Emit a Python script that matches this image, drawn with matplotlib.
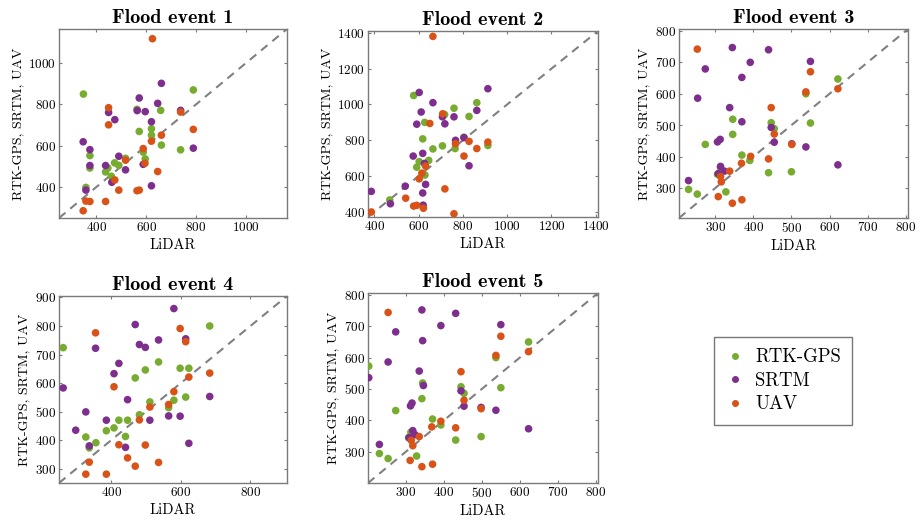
import matplotlib
matplotlib.use("Agg")
import matplotlib.pyplot as plt
from matplotlib.lines import Line2D

# colours (MATLAB default palette)
GREEN = "#77ac30"
PURPLE = "#7e2f8e"
ORANGE = "#d95319"

SERIES = ["RTK-GPS", "SRTM", "UAV"]
TITLES = ["Flood event 1", "Flood event 2", "Flood event 3", "Flood event 4", "Flood event 5"]

# (LiDAR, other) pairs
EV1_RTK = [(348, 850), (358, 398), (374, 552), (374, 492), (437, 473), (446, 492), (460, 452),
           (473, 517), (490, 505), (517, 539), (563, 776), (572, 669), (588, 569), (596, 536),
           (621, 682), (621, 651), (658, 771), (661, 603), (738, 580), (789, 870)]
EV1_SRTM = [(347, 619), (358, 385), (374, 581), (374, 504), (437, 504), (449, 761), (462, 423),
            (474, 726), (490, 549), (517, 483), (564, 770), (572, 831), (588, 510), (596, 765),
            (621, 716), (621, 406), (646, 805), (661, 902), (738, 771), (789, 588)]
EV1_UAV = [(347, 285), (358, 332), (374, 330), (437, 330), (449, 784), (449, 701), (474, 434),
           (490, 385), (517, 530), (563, 382), (572, 385), (588, 586), (595, 515), (621, 622),
           (625, 1118), (646, 475), (661, 651), (738, 763), (789, 679)]

EV2_RTK = [(470, 467), (578, 1050), (592, 650), (603, 681), (619, 808), (628, 900), (629, 606),
           (646, 688), (665, 752), (708, 769), (718, 944), (760, 979), (765, 754), (805, 817),
           (828, 933), (863, 1010), (913, 771)]
EV2_SRTM = [(387, 515), (473, 446), (540, 544), (576, 712), (592, 890), (603, 1067), (612, 958),
            (619, 727), (619, 506), (621, 438), (627, 671), (632, 554), (665, 1010), (708, 931),
            (719, 892), (760, 931), (767, 800), (805, 815), (828, 658), (863, 967), (913, 1088)]
EV2_UAV = [(387, 400), (542, 477), (578, 433), (592, 437), (603, 585), (615, 617), (622, 421),
           (632, 656), (651, 894), (665, 1380), (709, 948), (719, 529), (760, 390), (767, 781),
           (805, 712), (828, 794), (863, 754), (913, 790)]

EV3_RTK = [(230, 296), (253, 281), (274, 439), (306, 344), (311, 346), (314, 365), (328, 288),
           (346, 471), (346, 519), (370, 405), (391, 388), (440, 349), (447, 508), (455, 489),
           (500, 352), (538, 600), (550, 507), (622, 647)]
EV3_SRTM = [(230, 324), (254, 586), (274, 679), (306, 447), (313, 455), (314, 369), (308, 346),
            (324, 354), (338, 556), (345, 747), (370, 511), (370, 652), (392, 700), (440, 740),
            (447, 493), (455, 446), (501, 441), (538, 431), (550, 703), (622, 374)]
EV3_UAV = [(253, 742), (308, 273), (314, 337), (316, 320), (338, 354), (345, 252), (369, 379),
           (370, 263), (393, 401), (440, 393), (447, 556), (455, 472), (501, 439), (538, 606),
           (550, 670), (622, 616)]

EV4_RTK = [(262, 724), (327, 411), (337, 373), (356, 391), (386, 433), (408, 443), (422, 470),
           (447, 470), (441, 413), (469, 618), (481, 489), (498, 646), (511, 534), (536, 674),
           (565, 514), (580, 540), (598, 652), (614, 551), (623, 652), (683, 800)]
EV4_SRTM = [(262, 583), (298, 435), (327, 499), (337, 380), (355, 722), (386, 470), (408, 633),
            (422, 669), (441, 375), (447, 542), (469, 805), (481, 735), (498, 725), (511, 470),
            (536, 751), (565, 485), (580, 861), (598, 484), (614, 755), (623, 389), (683, 553)]
EV4_UAV = [(327, 281), (337, 323), (355, 776), (386, 281), (408, 587), (422, 384), (447, 338),
           (469, 309), (481, 471), (498, 383), (511, 516), (536, 322), (565, 525), (580, 570),
           (598, 791), (614, 745), (623, 621), (683, 635)]

EV5_RTK = [(202, 573), (230, 294), (253, 278), (273, 431), (307, 344), (313, 362), (328, 286),
           (342, 469), (344, 519), (370, 404), (392, 385), (431, 337), (445, 507), (453, 486),
           (498, 348), (537, 600), (550, 504), (623, 650)]
EV5_SRTM = [(202, 536), (230, 323), (253, 586), (273, 682), (308, 345), (312, 446), (316, 455),
            (318, 367), (324, 354), (335, 557), (342, 752), (344, 654), (346, 511), (392, 702),
            (431, 741), (445, 494), (453, 445), (498, 441), (537, 432), (550, 705), (623, 373)]
EV5_UAV = [(253, 744), (311, 272), (314, 336), (318, 319), (335, 348), (342, 252), (370, 260),
           (368, 379), (392, 397), (431, 376), (445, 555), (453, 464), (498, 437), (537, 607),
           (550, 668), (623, 619)]

LIMITS = [(250, 1165), (372, 1410), (205, 806), (250, 905), (200, 806)]
YTICKS = [[400, 600, 800, 1000],
          [400, 600, 800, 1000, 1200, 1400],
          [300, 400, 500, 600, 700, 800],
          [300, 400, 500, 600, 700, 800, 900],
          [300, 400, 500, 600, 700, 800]]
XTICKS = [[400, 600, 800, 1000],
          [400, 600, 800, 1000, 1200, 1400],
          [300, 400, 500, 600, 700, 800],
          [400, 600, 800],
          [300, 400, 500, 600, 700, 800]]

EVENTS = [(EV1_RTK, EV1_SRTM, EV1_UAV), (EV2_RTK, EV2_SRTM, EV2_UAV),
          (EV3_RTK, EV3_SRTM, EV3_UAV), (EV4_RTK, EV4_SRTM, EV4_UAV),
          (EV5_RTK, EV5_SRTM, EV5_UAV)]
COLORS = [GREEN, PURPLE, ORANGE]

plt.rcParams["font.family"] = ["cmr10", "DejaVu Serif"]
plt.rcParams["mathtext.fontset"] = "cm"
plt.rcParams["axes.formatter.use_mathtext"] = True

W, H = 919, 521
fig = plt.figure(figsize=(W / 100, H / 100), dpi=100)

# axes boxes in pixels: left, right, top, bottom
BOXES = [(59, 287, 29, 218), (368, 598, 31, 217), (679, 908, 29, 218),
         (59, 287, 296, 483), (368, 598, 293, 483)]

FRAME = "#7a7a7a"
for i, (l, r, t, b) in enumerate(BOXES):
    ax = fig.add_axes([l / W, (H - b) / H, (r - l) / W, (b - t) / H])
    lo, hi = LIMITS[i]
    # 1:1 line
    ax.plot([lo, hi], [lo, hi], color="#808080", ls=(0, (4, 3)), lw=1.5, zorder=1)
    for pts, c in zip(EVENTS[i], COLORS):
        xs = [p[0] for p in pts]
        ys = [p[1] for p in pts]
        ax.scatter(xs, ys, s=30, color=c, edgecolors="none", zorder=3)
    ax.set_xlim(lo, hi)
    ax.set_ylim(lo, hi)
    ax.set_xticks(XTICKS[i])
    ax.set_yticks(YTICKS[i])
    ax.tick_params(direction="in", length=2.5, width=0.8, color=FRAME,
                   top=True, right=True, labelsize=9.5, pad=2)
    for s in ax.spines.values():
        s.set_color(FRAME)
        s.set_linewidth(1.0)
    ax.set_title(TITLES[i], fontsize=14.5, family="cmb10", pad=4)
    ax.set_xlabel("LiDAR", fontsize=10.5, labelpad=3)
    ax.set_ylabel("RTK-GPS, SRTM, UAV", fontsize=10, labelpad=3)

handles = [Line2D([], [], marker="o", ls="none", ms=4, color=c) for c in COLORS]
leg = fig.legend(handles, SERIES, loc="upper left", bbox_to_anchor=(714 / W, 1 - 337 / H),
                 fontsize=13.5, frameon=True, fancybox=False, edgecolor="#555555",
                 borderpad=0.6, borderaxespad=0, handletextpad=0.6, labelspacing=0.3,
                 handlelength=1.0)
leg.get_frame().set_linewidth(1.0)

fig.savefig("out.png", dpi=100)
